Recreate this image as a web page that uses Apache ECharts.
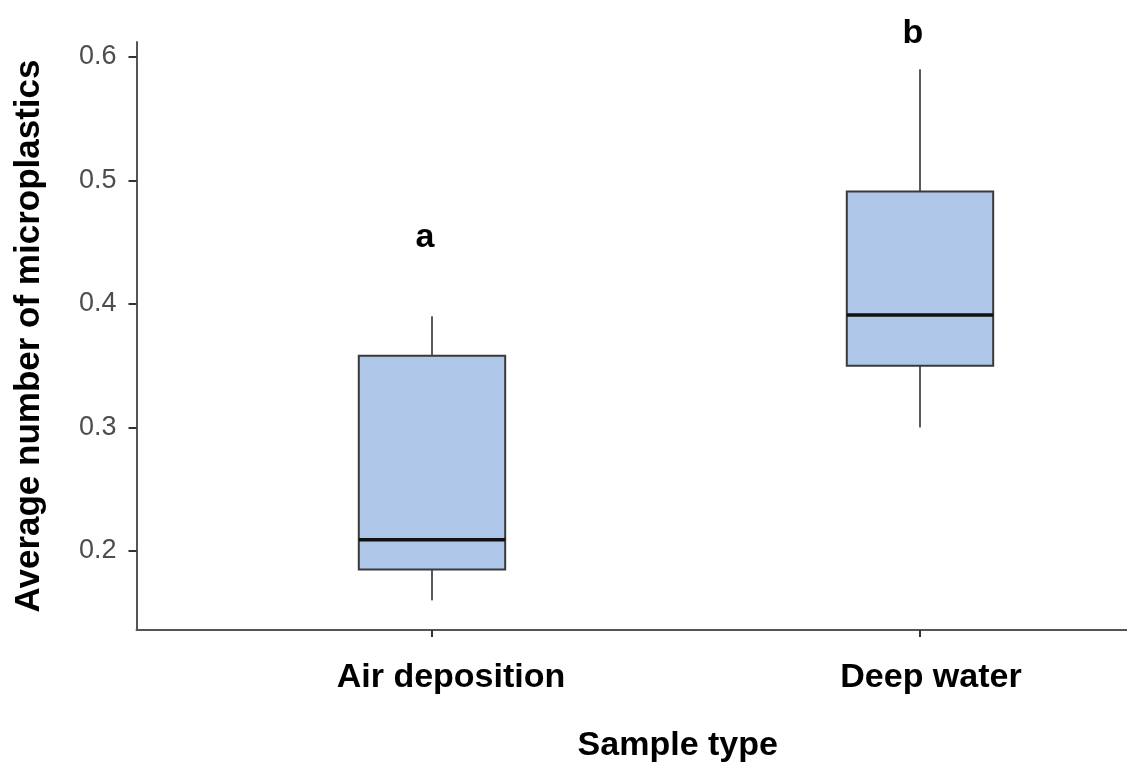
<!DOCTYPE html>
<html>
<head>
<meta charset="utf-8">
<script src="https://cdn.jsdelivr.net/npm/echarts@6/dist/echarts.min.js"></script>
<style>
  html, body { margin: 0; padding: 0; background: #fff; }
  #chart { width: 1127px; height: 763px; }
</style>
</head>
<body>
<div id="chart"></div>
<script>
// ---- data ----
const categories = ['Air deposition', 'Deep water'];
const positions = [1, 2];
const whiskerLow = [0.160, 0.300];
const q1Values = [0.185, 0.350];
const medians = [0.209, 0.391];
const q3Values = [0.358, 0.491];
const whiskerHigh = [0.390, 0.590];
const letters = ['a', 'b'];
const letterY = [0.4535, 0.619];
const yTicks = [0.2, 0.3, 0.4, 0.5, 0.6];

const FONT = "'Liberation Sans', Arial, Helvetica, sans-serif";
const BOX_W = 0.3;
const LABEL_SHIFT = [38, 22];

const boxData = positions.map((p, i) => [p, whiskerLow[i], q1Values[i], medians[i], q3Values[i], whiskerHigh[i]]);
const letterData = positions.map((p, i) => [p, letterY[i]]);

function renderBox(params, api) {
  const x = api.value(0);
  const lo = api.coord([x, api.value(1)]);
  const q1 = api.coord([x, api.value(2)]);
  const med = api.coord([x, api.value(3)]);
  const q3 = api.coord([x, api.value(4)]);
  const hi = api.coord([x, api.value(5)]);
  const half = api.size([BOX_W, 0])[0] / 2;
  const cx = lo[0];
  return {
    type: 'group',
    children: [
      { type: 'line', shape: { x1: cx, y1: hi[1], x2: cx, y2: q3[1] }, style: { stroke: '#5a5a5a', lineWidth: 2 } },
      { type: 'line', shape: { x1: cx, y1: q1[1], x2: cx, y2: lo[1] }, style: { stroke: '#5a5a5a', lineWidth: 2 } },
      { type: 'rect', shape: { x: cx - half, y: q3[1], width: half * 2, height: q1[1] - q3[1] },
        style: { fill: '#aec7e8', stroke: '#3a3a3a', lineWidth: 2 } },
      { type: 'line', shape: { x1: cx - half, y1: med[1], x2: cx + half, y2: med[1] }, style: { stroke: '#111', lineWidth: 3.5 } }
    ]
  };
}

function renderLetter(params, api) {
  const c = api.coord([api.value(0), api.value(1)]);
  return {
    type: 'text',
    x: c[0] - 7,
    y: c[1],
    style: { text: letters[params.dataIndex], font: 'bold 34px ' + FONT, fill: '#000', align: 'center', verticalAlign: 'middle' }
  };
}

const richLabels = {};
categories.forEach((c, i) => {
  richLabels['c' + i] = {
    color: '#000', fontFamily: FONT, fontWeight: 'bold', fontSize: 34,
    padding: [0, 0, 0, LABEL_SHIFT[i]]
  };
});

const chart = echarts.init(document.getElementById('chart'), null, { renderer: 'canvas' });
chart.setOption({
  animation: false,
  backgroundColor: '#fff',
  grid: { left: 136.5, top: 42, height: 588, right: 0, containLabel: false, outerBoundsMode: 'none' },
  xAxis: {
    type: 'value', min: 0.3945, max: 2.4242,
    splitLine: { show: false },
    axisLine: { show: true, onZero: false, lineStyle: { color: '#555', width: 2 } },
    axisTick: { show: true, customValues: positions, length: 7, lineStyle: { color: '#333', width: 2 } },
    axisLabel: {
      customValues: positions, margin: 31,
      formatter: v => {
        const i = positions.indexOf(Math.round(v));
        return i < 0 ? '' : '{c' + i + '|' + categories[i] + '}';
      },
      rich: richLabels,
      color: '#000', fontFamily: FONT, fontWeight: 'bold', fontSize: 34
    },
    name: 'Sample type', nameLocation: 'middle', nameGap: 99,
    nameTextStyle: { color: '#000', fontFamily: FONT, fontWeight: 'bold', fontSize: 34, padding: [0, 0, 0, 92] }
  },
  yAxis: {
    type: 'value', min: 0.136, max: 0.6121,
    splitLine: { show: false },
    axisLine: { show: true, onZero: false, lineStyle: { color: '#555', width: 2 } },
    axisTick: { show: true, customValues: yTicks, length: 8, lineStyle: { color: '#333', width: 2 } },
    axisLabel: {
      customValues: yTicks, margin: 20,
      formatter: v => v.toFixed(1),
      color: '#4d4d4d', fontFamily: FONT, fontSize: 27
    },
    name: 'Average number of microplastics', nameLocation: 'middle', nameGap: 90,
    nameTextStyle: { color: '#000', fontFamily: FONT, fontWeight: 'bold', fontSize: 35 }
  },
  series: [
    { type: 'custom', renderItem: renderBox, data: boxData, encode: { x: 0, y: [1, 2, 3, 4, 5] }, clip: false },
    { type: 'custom', renderItem: renderLetter, data: letterData, encode: { x: 0, y: 1 }, clip: false }
  ]
});
</script>
</body>
</html>
